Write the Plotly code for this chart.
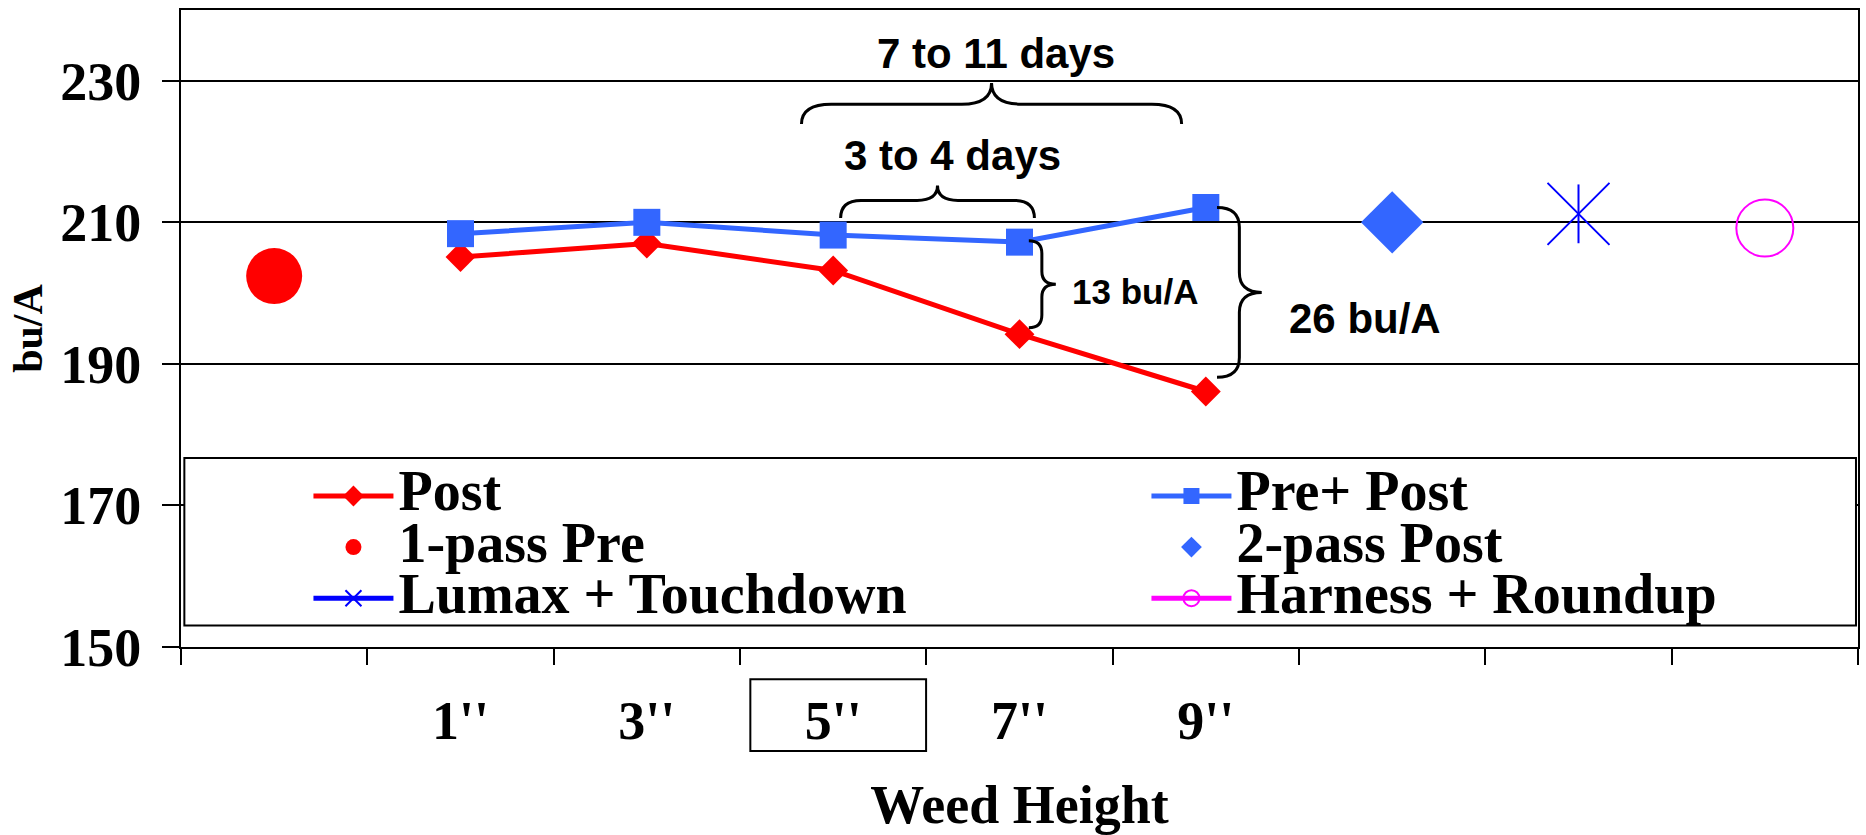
import plotly.graph_objects as go

# Categories along the x axis (one slot per treatment / weed height)
categories = ["1-pass Pre", "1''", "3''", "5''", "7''", "9''",
              "2-pass Post", "Lumax + Touchdown", "Harness + Roundup"]
tick_labels = ["", "1''", "3''", "5''", "7''", "9''", "", "", ""]
heights = ["1''", "3''", "5''", "7''", "9''"]

# Yields (bu/A)
post = [205.1, 207.0, 203.2, 194.2, 186.1]
pre_post = [208.4, 210.0, 208.2, 207.2, 212.1]
one_pass_pre = [202.4]
two_pass_post = [210.0]
lumax_touchdown = [211.2]
harness_roundup = [209.2]

y_ticks = [150, 170, 190, 210, 230]

SERIF = "Liberation Serif, Times New Roman, serif"
SANS = "Liberation Sans, Arial, sans-serif"
RED = "#FF0000"
BLUE = "#3366FF"
PURE_BLUE = "#0000FF"
MAGENTA = "#FF00FF"


def legend_name(text):
    return f'<span style="font-size:56px">{text}</span>'


fig = go.Figure()

# left legend column
fig.add_trace(go.Scatter(
    x=heights, y=post, name=legend_name("Post"), mode="lines+markers",
    legend="legend", line=dict(color=RED, width=5),
    marker=dict(symbol="diamond", size=23, color=RED)))

fig.add_trace(go.Scatter(
    x=["1-pass Pre"], y=one_pass_pre, name=legend_name("1-pass Pre"), mode="markers",
    legend="legend", marker=dict(symbol="circle", size=56, color=RED)))

fig.add_trace(go.Scatter(
    x=["Lumax + Touchdown"], y=lumax_touchdown, name=legend_name("Lumax + Touchdown"),
    mode="lines+markers", legend="legend", line=dict(color=PURE_BLUE, width=5),
    marker=dict(symbol="x-thin-open", size=62, color=PURE_BLUE,
                line=dict(color=PURE_BLUE, width=2))))

# vertical stroke completing the star marker
fig.add_trace(go.Scatter(
    x=["Lumax + Touchdown"], y=lumax_touchdown, mode="markers", showlegend=False,
    marker=dict(symbol="line-ns-open", size=42, color=PURE_BLUE,
                line=dict(color=PURE_BLUE, width=2))))

# right legend column
fig.add_trace(go.Scatter(
    x=heights, y=pre_post, name=legend_name("Pre+ Post"), mode="lines+markers",
    legend="legend2", line=dict(color=BLUE, width=5),
    marker=dict(symbol="square", size=27, color=BLUE)))

fig.add_trace(go.Scatter(
    x=["2-pass Post"], y=two_pass_post, name=legend_name("2-pass Post"), mode="markers",
    legend="legend2", marker=dict(symbol="diamond", size=48, color=BLUE)))

fig.add_trace(go.Scatter(
    x=["Harness + Roundup"], y=harness_roundup, name=legend_name("Harness + Roundup"),
    mode="lines+markers", legend="legend2", line=dict(color=MAGENTA, width=5),
    marker=dict(symbol="circle-open", size=57, color=MAGENTA,
                line=dict(color=MAGENTA, width=2))))


def hbrace(x0, x1, yb, yf, yt, rx):
    xm = (x0 + x1) / 2
    return (f"M{x0},{yb} Q{x0},{yf} {x0 + rx},{yf} L{xm - rx},{yf} "
            f"Q{xm},{yf} {xm},{yt} Q{xm},{yf} {xm + rx},{yf} "
            f"L{x1 - rx},{yf} Q{x1},{yf} {x1},{yb}")


def vbrace(xe, xl, xt, ytop, ybot, ry):
    ym = (ytop + ybot) / 2
    return (f"M{xe},{ytop} Q{xl},{ytop} {xl},{ytop - ry} L{xl},{ym + ry} "
            f"Q{xl},{ym} {xt},{ym} Q{xl},{ym} {xl},{ym - ry} "
            f"L{xl},{ybot + ry} Q{xl},{ybot} {xe},{ybot}")


brace_line = dict(color="black", width=3)
shapes = [
    dict(type="path", xref="x", yref="y", line=brace_line,
         path=hbrace(2.83, 4.87, 223.9, 226.7, 229.7, 0.16)),
    dict(type="path", xref="x", yref="y", line=brace_line,
         path=hbrace(3.04, 4.08, 210.6, 213.1, 215.2, 0.11)),
    dict(type="path", xref="x", yref="y", line=brace_line,
         path=vbrace(4.05, 4.12, 4.195, 207.4, 195.1, 1.8)),
    dict(type="path", xref="x", yref="y", line=brace_line,
         path=vbrace(5.06, 5.18, 5.30, 212.1, 188.1, 2.8)),
    # legend frame
    dict(type="rect", xref="paper", yref="paper", x0=0.002, x1=0.9988,
         y0=0.0338, y1=0.2967, fillcolor="white", line=dict(color="black", width=2),
         layer="above"),
    # frame around the 5'' label
    dict(type="rect", xref="paper", yref="paper", x0=0.3395, x1=0.4443,
         y0=-0.1634, y1=-0.0507, line=dict(color="black", width=2)),
]

annotations = [
    dict(x=3.873, y=233.9, text="7 to 11 days", font=dict(family=SANS, size=42, weight="bold")),
    dict(x=3.643, y=219.4, text="3 to 4 days", font=dict(family=SANS, size=42, weight="bold")),
    dict(x=4.618, y=200.2, text="13 bu/A", font=dict(family=SANS, size=35, weight="bold")),
    dict(x=5.856, y=196.4, text="26 bu/A", font=dict(family=SANS, size=42, weight="bold")),
]
for a in annotations:
    a.update(xref="x", yref="y", showarrow=False, xanchor="center", yanchor="middle")
    a["font"]["color"] = "black"

legend_style = dict(
    orientation="v", xanchor="left", y=0.285, yanchor="top", itemwidth=80,
    bgcolor="rgba(0,0,0,0)", borderwidth=0,
    font=dict(family=SERIF, size=37, color="black", weight="bold"),
)

fig.update_layout(
    width=1866, height=835,
    margin=dict(l=181, r=6, t=10, b=186),
    paper_bgcolor="white", plot_bgcolor="white",
    shapes=shapes, annotations=annotations,
    legend=dict(x=0.076, **legend_style),
    legend2=dict(x=0.5757, **legend_style),
    xaxis=dict(
        type="category", categoryorder="array", categoryarray=categories,
        tickmode="array", tickvals=categories, ticktext=tick_labels,
        tickson="boundaries", range=[-0.5, 8.5],
        ticks="outside", ticklen=16, tickwidth=2, tickcolor="black",
        showline=True, linewidth=2, linecolor="black", mirror=True,
        showgrid=False, ticklabelstandoff=25,
        tickfont=dict(family=SERIF, size=54, color="black", weight="bold"),
        title=dict(text="Weed Height", standoff=40,
                   font=dict(family=SERIF, size=54, color="black", weight="bold")),
    ),
    yaxis=dict(
        range=[150, 240], tickmode="array", tickvals=y_ticks,
        ticks="outside", ticklen=17, tickwidth=2, tickcolor="black",
        showline=True, linewidth=2, linecolor="black", mirror=True,
        showgrid=True, gridcolor="black", gridwidth=1.5, zeroline=False,
        ticklabelstandoff=10,
        tickfont=dict(family=SERIF, size=54, color="black", weight="bold"),
        title=dict(text="bu/A", standoff=5,
                   font=dict(family=SERIF, size=42, color="black", weight="bold")),
    ),
)

fig.write_html("out.html")
